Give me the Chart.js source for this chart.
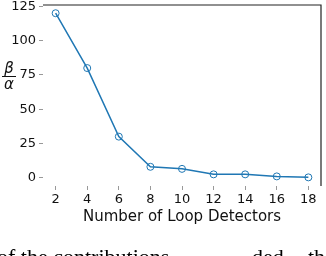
<!DOCTYPE html>
<html>
<head>
<meta charset="utf-8">
<script src="https://cdn.jsdelivr.net/npm/chart.js@4/dist/chart.umd.min.js"></script>
<style>
  html, body { margin: 0; padding: 0; background: #fff; }
  #wrap { width: 326px; height: 256px; }
</style>
</head>
<body>
<div id="wrap"><canvas id="myChart" width="326" height="256"></canvas></div>
<script>
// data block
const detectors = [2, 4, 6, 8, 10, 12, 14, 16, 18];
const ratio = [120, 80, 30, 8, 6.5, 2.5, 2.5, 1, 0.3];
const xTicks = [2, 4, 6, 8, 10, 12, 14, 16, 18];
const yTicks = [0, 25, 50, 75, 100, 125];
const xTitle = 'Number of Loop Detectors';

const blue = '#1f77b4';
const tickFont = { family: 'DejaVu Sans', size: 13 };

// top + right spines, axis title, the fraction label and the cut-off body text
const extras = {
    id: 'extras',
    afterDraw(chart) {
        const ctx = chart.ctx;
        const a = chart.chartArea;
        ctx.save();
        ctx.strokeStyle = '#222';
        ctx.lineWidth = 1.2;
        ctx.beginPath();
        ctx.moveTo(a.left, a.top);
        ctx.lineTo(a.right, a.top);
        ctx.lineTo(a.right, a.bottom);
        ctx.stroke();

        ctx.fillStyle = '#111';
        ctx.textAlign = 'center';
        ctx.textBaseline = 'middle';
        ctx.font = '15px "DejaVu Sans"';
        ctx.fillText(xTitle, (a.left + a.right) / 2, 217);

        // beta over alpha
        ctx.font = 'italic 15px "DejaVu Sans"';
        ctx.fillText('β', 9, 69);
        ctx.fillText('α', 9, 85);
        ctx.lineWidth = 1;
        ctx.strokeStyle = '#111';
        ctx.beginPath();
        ctx.moveTo(2, 76.5);
        ctx.lineTo(16, 76.5);
        ctx.stroke();

        // paper text below the figure
        ctx.font = '22px "Liberation Serif"';
        ctx.textAlign = 'left';
        ctx.textBaseline = 'alphabetic';
        ctx.fillStyle = '#000';
        ctx.fillText('of the contributions', -3, 264);
        ctx.fillText('ded', 252, 264);
        ctx.fillText('th', 308, 264);
        ctx.restore();
    }
};

// config block
const config = {
    type: 'line',
    data: {
        datasets: [{
            data: detectors.map((d, i) => ({ x: d, y: ratio[i] })),
            borderColor: blue,
            borderWidth: 1.5,
            pointRadius: 3.5,
            pointBorderWidth: 1,
            pointBorderColor: blue,
            pointBackgroundColor: 'rgba(0,0,0,0)',
            tension: 0
        }]
    },
    options: {
        responsive: false,
        animation: false,
        layout: { padding: { top: 4, right: 4, left: 0, bottom: 30 } },
        plugins: {
            legend: { display: false },
            tooltip: { enabled: false }
        },
        scales: {
            x: {
                type: 'linear',
                min: 1.2,
                max: 18.8,
                afterBuildTicks: s => { s.ticks = xTicks.map(v => ({ value: v })); },
                afterFit: s => { s.height = 40; s.paddingLeft = 0; s.paddingRight = 0; },
                border: { display: false },
                grid: { drawOnChartArea: false, drawTicks: true, tickLength: 4, color: '#999' },
                ticks: { font: tickFont, color: '#111', padding: 2, maxRotation: 0 }
            },
            y: {
                min: -6,
                max: 126,
                afterBuildTicks: s => { s.ticks = yTicks.map(v => ({ value: v })); },
                afterFit: s => { s.width = 43; s.paddingTop = 0; s.paddingBottom = 0; },
                border: { display: false },
                grid: { drawOnChartArea: false, drawTicks: true, tickLength: 4, color: '#999' },
                ticks: { font: tickFont, color: '#111', padding: 3 }
            }
        }
    },
    plugins: [extras]
};

// init render block
const myChart = new Chart(document.getElementById('myChart'), config);
</script>
</body>
</html>
